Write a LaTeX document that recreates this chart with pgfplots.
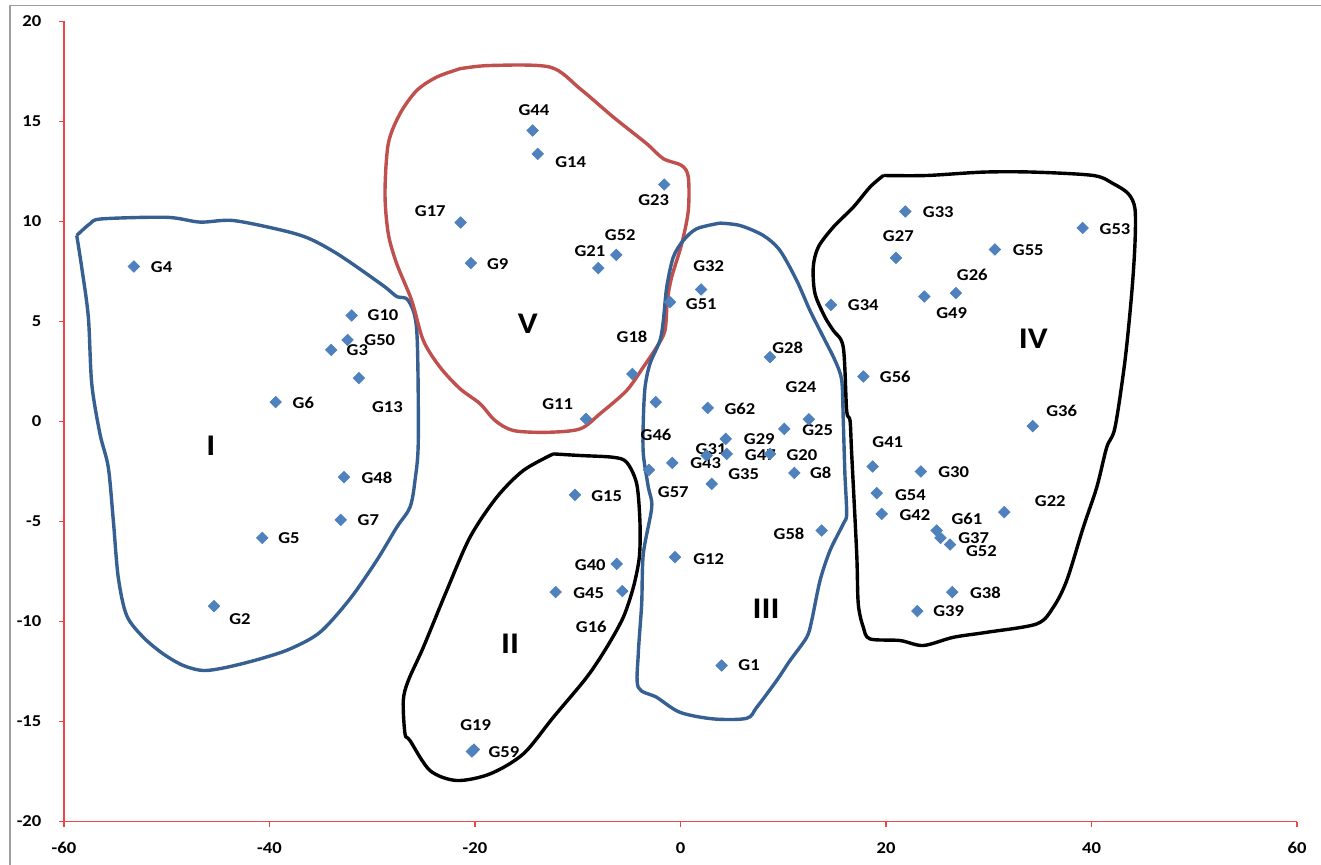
\documentclass[border=0pt]{standalone}
\usepackage{pgfplots}
\pgfplotsset{compat=1.18}
\usepackage{fontspec}
\setmainfont{Carlito}[FakeStretch=1.12]
\definecolor{ptblue}{RGB}{79,129,189}
\definecolor{cblue}{RGB}{55,96,146}
\definecolor{cred}{RGB}{192,80,77}
\definecolor{axred}{RGB}{238,70,70}
\begin{document}
\begin{tikzpicture}
\useasboundingbox (0,0) rectangle (660.5pt,432pt);
\draw[gray!75, line width=0.8pt] (5pt,-5pt) -- (5pt,429.25pt) -- (670pt,429.25pt);
\begin{axis}[
  at={(32pt,21.25pt)}, anchor=south west,
  scale only axis, width=616.5pt, height=400pt,
  xmin=-60, xmax=60, ymin=-20, ymax=20,
  axis x line*=bottom, axis y line*=left,
  axis line style={axred, line width=0.6pt},
  xtick={-60,-40,-20,0,20,40,60},
  xticklabels={{-60},{-40},{-20},{0},{20},{40},{60}},
  ytick={-20,-15,-10,-5,0,5,10,15,20},
  yticklabels={{-20},{-15},{-10},{-5},{0},{5},{10},{15},{20}},
  tick align=outside, major tick length=2.5pt,
  tick style={axred, line width=0.6pt},
  ticklabel style={font=\fontsize{8.3}{10}\selectfont\bfseries, text=black},
  yticklabel style={xshift=-5.3pt},
  xticklabel style={yshift=-4.5pt},
  clip=false,
]
% cluster I (blue)
\addplot[no markers, cblue, line width=1.7pt, line join=round, smooth, tension=0.5] coordinates {
(-58.76,9.3) (-57.47,9.89) (-56.33,10.13) (-50.0,10.21) (-46.76,9.97) (-43.55,10.05)
(-38.69,9.55) (-36.06,9.13) (-33.14,8.3) (-28.95,6.8) (-27.62,6.25) (-26.49,6.05)
(-25.67,4.55) (-25.52,-0.95) (-25.84,-2.95) (-26.33,-4.29) (-27.62,-5.29) (-29.57,-6.95)
(-32.17,-8.87) (-35.09,-10.54) (-38.0,-11.37) (-40.92,-11.87) (-44.17,-12.29) (-46.44,-12.45)
(-48.39,-12.2) (-50.34,-11.62) (-52.28,-10.79) (-53.9,-9.7) (-54.72,-7.79) (-55.2,-4.95)
(-55.69,-2.29) (-56.5,-0.62) (-57.3,1.89) (-57.63,5.22) (-58.28,7.72) (-58.76,9.3)
};
% cluster V (red)
\addplot[no markers, cred, line width=1.7pt, line join=round, smooth, tension=0.5] coordinates {
(-21.46,17.64) (-18.54,17.8) (-12.7,17.72) (-9.78,16.64) (-6.54,15.22) (-3.29,13.89)
(-1.67,13.14) (0.12,12.8) (0.76,12.22) (0.76,10.55) (0.12,8.89) (-0.86,7.22)
(-1.28,6.05) (-1.51,4.55) (-2.32,3.72) (-3.62,2.72) (-5.24,1.55) (-7.83,0.39)
(-9.78,-0.37) (-13.02,-0.54) (-16.27,-0.45) (-18.05,0.05) (-19.51,0.89) (-21.46,1.64)
(-23.41,2.72) (-25.03,4.05) (-26.16,6.05) (-27.62,7.89) (-28.44,9.39) (-28.76,11.39)
(-28.44,13.89) (-27.3,15.39) (-25.67,16.55) (-23.73,17.22) (-21.46,17.64)
};
% cluster III (blue)
\addplot[no markers, cblue, line width=1.7pt, line join=round, smooth, tension=0.5] coordinates {
(3.84,9.92) (5.79,9.8) (8.06,9.3) (9.68,8.55) (11.31,7.05) (12.6,5.55) (13.9,4.22)
(15.04,3.05) (15.69,2.05) (15.84,0.05) (16.0,-2.62) (16.17,-4.62) (15.84,-5.12)
(14.55,-6.45) (13.58,-7.95) (12.77,-9.95) (12.28,-10.79) (10.66,-11.95) (9.36,-12.95)
(7.42,-14.29) (6.44,-14.84) (3.19,-14.87) (-0.05,-14.54) (-2.32,-13.79) (-4.11,-13.29)
(-4.11,-11.62) (-3.78,-9.12) (-3.62,-6.62) (-2.8,-4.29) (-3.13,-3.29) (-3.62,-1.62)
(-3.62,0.05) (-3.45,1.72) (-2.97,2.89) (-2.0,4.05) (-1.67,5.05) (-1.34,6.72)
(-0.7,8.22) (0.27,9.05) (1.58,9.64) (3.84,9.92)
};
% cluster II (black)
\addplot[no markers, black, line width=1.7pt, line join=round, smooth, tension=0.5] coordinates {
(-12.38,-1.62) (-9.78,-1.7) (-6.54,-1.79) (-5.24,-2.04) (-4.26,-3.12) (-3.94,-5.12)
(-4.01,-6.79) (-4.59,-8.29) (-5.57,-9.79) (-7.18,-11.29) (-9.13,-12.79) (-12.38,-14.79)
(-15.3,-16.62) (-18.54,-17.62) (-21.78,-17.95) (-24.38,-17.45) (-26.33,-15.95) (-26.81,-15.62)
(-26.98,-13.95) (-26.49,-12.95) (-25.03,-11.29) (-22.75,-8.45) (-20.49,-5.79) (-17.89,-3.79)
(-15.3,-2.45) (-12.38,-1.62)
};
% cluster IV (black)
\addplot[no markers, black, line width=1.7pt, line join=round, smooth, tension=0.5] coordinates {
(19.74,12.3) (23.96,12.3) (29.47,12.47) (34.34,12.47) (40.18,12.3) (42.12,11.89)
(43.58,11.39) (44.23,10.64) (44.23,8.89) (43.91,6.39) (43.26,3.05) (42.29,-0.29)
(41.48,-1.29) (40.51,-3.29) (39.2,-5.29) (37.59,-7.95) (36.28,-9.29) (34.67,-10.12)
(29.8,-10.54) (26.55,-10.79) (23.63,-11.2) (21.36,-10.95) (18.44,-10.87) (17.79,-10.29)
(17.3,-9.12) (17.15,-6.62) (16.66,-1.62) (16.5,0.05) (16.17,0.55) (15.84,3.72)
(14.87,4.55) (14.06,5.22) (13.09,6.39) (12.92,7.72) (13.41,8.72) (14.87,9.72)
(16.82,10.72) (18.44,11.72) (19.74,12.3)
};
% points
\addplot[only marks, mark=square*, mark size=2.0pt, mark options={rotate=45, fill=ptblue, draw=ptblue}] table {
x y
-53.2 7.75
-32.0 5.3
-32.4 4.08
-34.0 3.58
-31.3 2.17
-39.4 0.97
-32.75 -2.78
-33.07 -4.92
-40.7 -5.82
-45.4 -9.23
-14.4 14.55
-13.9 13.38
-1.58 11.85
-21.4 9.95
-20.4 7.92
-6.25 8.33
-8.0 7.67
-4.69 2.38
-9.2 0.13
2.0 6.6
-1.02 5.97
8.71 3.22
-2.41 0.97
2.65 0.68
12.49 0.11
10.1 -0.37
4.4 -0.87
2.55 -1.7
4.5 -1.62
8.71 -1.62
-0.8 -2.07
-3.07 -2.42
3.04 -3.12
11.08 -2.57
13.74 -5.45
-0.54 -6.78
4.0 -12.2
-10.27 -3.67
-6.21 -7.12
-12.15 -8.53
-5.66 -8.48
-20.3 -16.5
-20.1 -16.4
14.65 5.83
17.8 2.25
21.88 10.5
39.14 9.68
20.97 8.18
30.6 8.6
26.8 6.42
23.73 6.25
34.28 -0.23
18.7 -2.25
23.4 -2.5
19.1 -3.58
19.58 -4.62
31.5 -4.53
24.93 -5.45
25.3 -5.82
26.23 -6.15
26.45 -8.53
23.05 -9.48
};
% point labels
\begin{scope}[every node/.style={font=\fontsize{8.3}{10}\selectfont\bfseries, inner sep=0pt}]
\node at (axis cs:-50.5,7.72) {G4};
\node at (axis cs:-28.95,5.3) {G10};
\node at (axis cs:-29.27,4.05) {G50};
\node at (axis cs:-31.45,3.55) {G3};
\node at (axis cs:-28.53,0.72) {G13};
\node at (axis cs:-36.71,0.93) {G6};
\node at (axis cs:-29.54,-2.82) {G48};
\node at (axis cs:-30.38,-4.95) {G7};
\node at (axis cs:-38.1,-5.82) {G5};
\node at (axis cs:-42.87,-9.9) {G2};
\node at (axis cs:-14.26,15.55) {G44};
\node at (axis cs:-10.69,12.97) {G14};
\node at (axis cs:-2.61,11.05) {G23};
\node at (axis cs:-24.35,10.52) {G17};
\node at (axis cs:-17.79,7.85) {G9};
\node at (axis cs:-5.86,9.3) {G52};
\node at (axis cs:-8.81,8.5) {G21};
\node at (axis cs:-4.72,4.25) {G18};
\node at (axis cs:-11.95,0.88) {G11};
\node at (axis cs:2.02,5.88) {G51};
\node at (axis cs:2.74,7.77) {G32};
\node at (axis cs:17.79,5.8) {G34};
\node at (axis cs:10.43,3.68) {G28};
\node at (axis cs:11.73,1.72) {G24};
\node at (axis cs:5.79,0.63) {G62};
\node at (axis cs:13.35,-0.45) {G25};
\node at (axis cs:-2.38,-0.67) {G46};
\node at (axis cs:7.67,-0.9) {G29};
\node at (axis cs:2.97,-1.37) {G31};
\node at (axis cs:7.77,-1.67) {G47};
\node at (axis cs:11.82,-1.67) {G20};
\node at (axis cs:2.45,-2.08) {G43};
\node at (axis cs:6.15,-2.65) {G35};
\node at (axis cs:13.64,-2.57) {G8};
\node at (axis cs:-0.7,-3.53) {G57};
\node at (axis cs:10.56,-5.62) {G58};
\node at (axis cs:2.74,-6.87) {G12};
\node at (axis cs:6.67,-12.2) {G1};
\node at (axis cs:-7.18,-3.75) {G15};
\node at (axis cs:-8.78,-7.17) {G40};
\node at (axis cs:-8.93,-8.58) {G45};
\node at (axis cs:-8.68,-10.28) {G16};
\node at (axis cs:-19.93,-15.17) {G19};
\node at (axis cs:-17.18,-16.53) {G59};
\node at (axis cs:25.09,10.47) {G33};
\node at (axis cs:42.29,9.6) {G53};
\node at (axis cs:21.2,9.25) {G27};
\node at (axis cs:33.85,8.58) {G55};
\node at (axis cs:28.4,7.35) {G26};
\node at (axis cs:26.39,5.42) {G49};
\node at (axis cs:20.9,2.22) {G56};
\node at (axis cs:37.1,0.52) {G36};
\node at (axis cs:20.17,-1.03) {G41};
\node at (axis cs:26.59,-2.53) {G30};
\node at (axis cs:22.37,-3.7) {G54};
\node at (axis cs:22.82,-4.7) {G42};
\node at (axis cs:35.99,-3.98) {G22};
\node at (axis cs:27.88,-4.87) {G61};
\node at (axis cs:28.53,-5.82) {G37};
\node at (axis cs:29.28,-6.5) {G52};
\node at (axis cs:29.67,-8.57) {G38};
\node at (axis cs:26.1,-9.5) {G39};
\end{scope}
% cluster labels
\begin{scope}[every node/.style={font=\fontsize{15}{18}\selectfont\bfseries, inner sep=0pt}]
\node at (axis cs:-45.72,-1.2) {I};
\node at (axis cs:-16.59,-11.12) {II};
\node at (axis cs:8.32,-9.37) {III};
\node at (axis cs:34.34,4.13) {IV};
\node at (axis cs:-14.87,4.88) {V};
\end{scope}
\end{axis}
\end{tikzpicture}
\end{document}
